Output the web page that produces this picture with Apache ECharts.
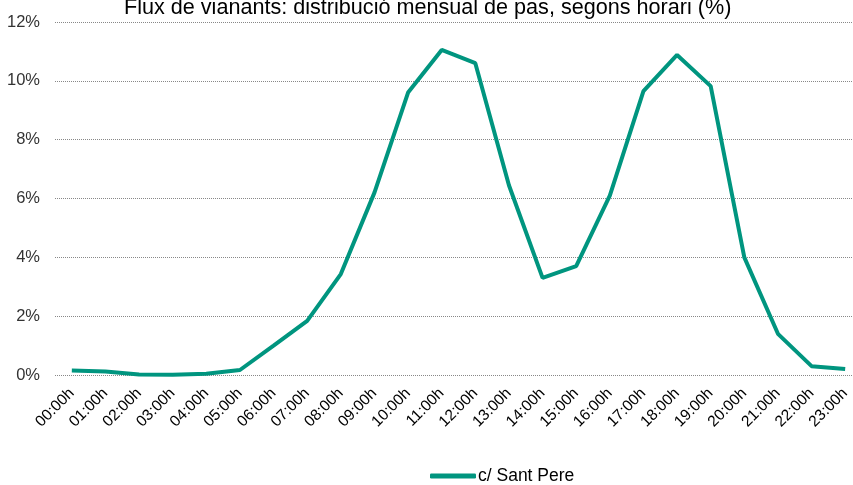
<!DOCTYPE html>
<html>
<head>
<meta charset="utf-8">
<script src="https://cdn.jsdelivr.net/npm/echarts@6/dist/echarts.min.js"></script>
<style>
  html, body { margin: 0; padding: 0; background: #fff; overflow: hidden; }
  #chart { width: 862px; height: 485px; }
</style>
</head>
<body>
<div id="chart"></div>
<script>
    // hores del dia
    var hores = ['00:00h', '01:00h', '02:00h', '03:00h', '04:00h', '05:00h', '06:00h', '07:00h',
        '08:00h', '09:00h', '10:00h', '11:00h', '12:00h', '13:00h', '14:00h', '15:00h',
        '16:00h', '17:00h', '18:00h', '19:00h', '20:00h', '21:00h', '22:00h', '23:00h'];
    // % de pas, c/ Sant Pere
    var santPere = [0.15, 0.12, 0.02, 0.01, 0.04, 0.17, 1.0, 1.84,
        3.43, 6.2, 9.6, 11.05, 10.6, 6.45, 3.3, 3.7,
        6.1, 9.65, 10.88, 9.82, 4.0, 1.4, 0.3, 0.2];

    var chart = echarts.init(document.getElementById('chart'));
    var option = {
        animation: false,
        title: {
            text: 'Flux de vianants: distribució mensual de pas, segons horari (%)',
            left: 119,
            top: -8,
            textStyle: {
                fontFamily: 'Liberation Sans',
                fontSize: 21.6,
                fontWeight: 'normal',
                color: '#000'
            }
        },
        legend: {
            data: ['c/ Sant Pere'],
            left: 425,
            top: 462,
            itemWidth: 46,
            itemHeight: 5,
            itemGap: 2,
            icon: 'roundRect',
            textStyle: { fontFamily: 'Liberation Sans', fontSize: 17.5, color: '#000', padding: [0, 0, 0, -3] }
        },
        grid: {
            left: 55,
            right: 0,
            top: 22,
            bottom: 110,
            containLabel: false
        },
        xAxis: {
            type: 'category',
            data: hores,
            boundaryGap: true,
            axisLine: { show: false },
            axisTick: { show: false },
            axisLabel: {
                rotate: 45,
                interval: 0,
                margin: 16,
                fontFamily: 'Liberation Sans',
                fontSize: 15.5,
                color: '#000'
            }
        },
        yAxis: {
            type: 'value',
            min: 0,
            max: 12,
            interval: 2,
            axisLine: { show: false },
            axisTick: { show: false },
            axisLabel: {
                formatter: '{value}%',
                margin: 15,
                fontFamily: 'Liberation Sans',
                fontSize: 16.5,
                color: '#333'
            },
            splitLine: { lineStyle: { color: '#888', type: [1, 1], width: 1 } }
        },
        series: [
            {
                name: 'c/ Sant Pere',
                type: 'line',
                data: santPere,
                symbol: 'none',
                lineStyle: { color: '#00957f', width: 4 },
                itemStyle: { color: '#00957f' }
            }
        ]
    };
    chart.setOption(option);
</script>
</body>
</html>
